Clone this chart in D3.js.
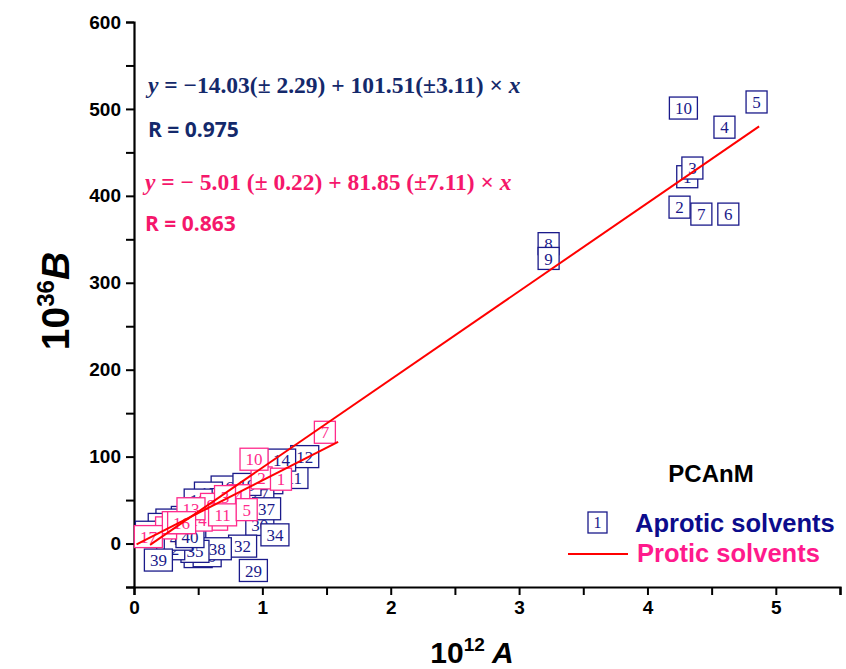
<!DOCTYPE html>
<html>
<head>
<meta charset="utf-8">
<script src="https://cdn.jsdelivr.net/npm/d3@7"></script>
<style>
  body { margin: 0; background: #fff; }
  svg { display: block; }
</style>
</head>
<body>
<div id="chart"></div>
<script>
// aprotic solvents (numbered boxes), listed in drawing order
var aproticLabels = [13, 15, 16, 17, 18, 20, 21, 22, 23, 24, 25, 26, 27, 28, 30, 31, 33, 36, 41,
                     19, 11, 12, 14, 37, 34, 32, 29, 38, 35, 42, 43, 39, 40,
                     8, 9, 1, 3, 2, 7, 6, 4, 10, 5];
var aproticA = [1.05, 0.59, 0.71, 0.58, 0.50, 0.45, 0.40, 0.50, 0.28, 0.22, 0.62, 0.76, 0.98, 0.20, 0.98, 0.50, 0.12, 0.57, 0.34,
                0.88, 1.246, 1.33, 1.15, 1.033, 1.098, 0.846, 0.93, 0.649, 0.475, 0.286, 0.345, 0.19, 0.436,
                3.23, 3.23, 4.31, 4.35, 4.25, 4.42, 4.63, 4.60, 4.28, 4.85];
var aproticB = [70, 51, 65, 58, 50, 18, 30, 40, 27, 22, 38, 47, 57, 10, 22, -15, 13, -14, 24,
                68, 76, 100, 96, 40, 10, -3, -31, -6, -9, -6, 5, -19, 8,
                345, 328, 422, 432, 387, 379, 379, 479, 501, 508];

// protic solvents, listed in drawing order
var proticLabels = [4, 6, 8, 9, 12, 14, 15, 13, 16, 3, 11, 5, 2, 1, 10, 7, 17];
var proticA = [0.82, 0.55, 0.25, 0.60, 0.62, 0.50, 0.33, 0.444, 0.371, 0.709, 0.69, 0.878, 0.994, 1.145, 0.935, 1.487, 0.112];
var proticB = [55, 33, 18, 45, 28, 27, 24, 40, 24, 54, 33, 39, 75.5, 74, 97, 128, 8];

// fitted lines, end points
var aproticFit = [[0.125, -1.5], [4.87, 480]];
var proticFit = [[0.02, -1], [1.59, 117]];

var xTicks = d3.range(0, 5.51, 0.5);
var yTicks = d3.range(-50, 601, 50);

var navy = "#1a1a8a";
var pink = "#ff2a8c";

var width = 846, height = 669;

var svg = d3.select("#chart").append("svg")
    .attr("width", width)
    .attr("height", height);

var x = d3.scaleLinear().domain([0, 5.5]).range([134, 840]);
var y = d3.scaleLinear().domain([-50, 600]).range([587, 22]);

// axes
var yAxis = svg.append("g")
    .attr("transform", "translate(" + x(0) + ",0)")
    .call(d3.axisLeft(y).tickValues(yTicks).tickSizeOuter(0).tickSize(8)
        .tickFormat(d => (d % 100 === 0 ? d : "")));
var xAxis = svg.append("g")
    .attr("transform", "translate(0," + y(-50) + ")")
    .call(d3.axisBottom(x).tickValues(xTicks).tickSizeOuter(0).tickSize(8)
        .tickFormat(d => (d % 1 === 0 ? d : "")));

[xAxis, yAxis].forEach(function (ax) {
    ax.select(".domain").attr("stroke", "#000").attr("stroke-width", 2.2);
    ax.selectAll(".tick line").attr("stroke", "#000").attr("stroke-width", 2);
    ax.selectAll(".tick text")
        .style("font-family", "'Liberation Sans', Arial, sans-serif")
        .style("font-weight", "bold")
        .style("font-size", "19px")
        .attr("fill", "#000");
});
yAxis.selectAll(".tick text").attr("x", -13);
xAxis.selectAll(".tick text").attr("y", 14);

// axis titles
var yTitle = svg.append("text")
    .attr("transform", "translate(69,301) rotate(-90)")
    .attr("text-anchor", "middle")
    .style("font-family", "'Liberation Sans', Arial, sans-serif")
    .style("font-weight", "bold")
    .style("font-size", "39px");
yTitle.append("tspan").text("10");
yTitle.append("tspan").attr("dy", -15).style("font-size", "24px").text("36");
yTitle.append("tspan").attr("dy", 15).style("font-style", "italic").text("B");

var xTitle = svg.append("text")
    .attr("x", 472).attr("y", 663)
    .attr("text-anchor", "middle")
    .style("font-family", "'Liberation Sans', Arial, sans-serif")
    .style("font-weight", "bold")
    .style("font-size", "30px");
xTitle.append("tspan").text("10");
xTitle.append("tspan").attr("dy", -12).style("font-size", "19px").text("12");
xTitle.append("tspan").attr("dy", 12).style("font-style", "italic").text(" A");

// numbered boxes
function drawBoxes(labels, xs, ys, color) {
    var pts = labels.map((l, i) => ({ label: l, a: xs[i], b: ys[i] }));
    var g = svg.append("g").selectAll("g")
        .data(pts)
        .enter()
        .append("g")
        .attr("transform", d => "translate(" + x(d.a) + "," + y(d.b) + ")");
    g.append("rect")
        .attr("x", d => -(String(d.label).length > 1 ? 14 : 10.5))
        .attr("y", -11)
        .attr("width", d => (String(d.label).length > 1 ? 28 : 21))
        .attr("height", 22)
        .attr("fill", "#fff")
        .attr("stroke", color)
        .attr("stroke-width", 1.3);
    g.append("text")
        .attr("text-anchor", "middle")
        .attr("dy", "0.36em")
        .style("font-family", "'Liberation Serif', 'Times New Roman', serif")
        .style("font-size", "17px")
        .attr("fill", color)
        .text(d => d.label);
}
drawBoxes(aproticLabels, aproticA, aproticB, navy);
drawBoxes(proticLabels, proticA, proticB, pink);

// fit lines
var line = d3.line().x(d => x(d[0])).y(d => y(d[1]));
[aproticFit, proticFit].forEach(function (f) {
    svg.append("path")
        .attr("d", line(f))
        .attr("fill", "none")
        .attr("stroke", "#ff0000")
        .attr("stroke-width", 2);
});

// equations
function equation(xp, yp, color, parts) {
    var t = svg.append("text")
        .attr("x", xp).attr("y", yp)
        .style("font-family", "'Liberation Serif', 'Times New Roman', serif")
        .style("font-weight", "bold")
        .style("font-size", "23.5px")
        .attr("fill", color);
    parts.forEach(function (p) {
        t.append("tspan").style("font-style", p[1] ? "italic" : "normal").text(p[0]);
    });
}
equation(148, 93, "#14296b", [["y", true], [" = −14.03(± 2.29) + 101.51(±3.11) × ", false], ["x", true]]);
equation(145, 190, "#f5176b", [["y", true], [" = − 5.01 (± 0.22) + 81.85 (±7.11) × ", false], ["x", true]]);

function rText(xp, yp, color, s) {
    svg.append("text")
        .attr("x", xp).attr("y", yp)
        .style("font-family", "'Open Sans', 'Noto Sans', sans-serif")
        .style("font-weight", "bold")
        .style("font-size", "21px")
        .attr("fill", color)
        .text(s);
}
rText(148, 137, "#14296b", "R = 0.975");
rText(145, 231, "#f5176b", "R = 0.863");

// PCAnM label and legend
svg.append("text")
    .attr("x", 711).attr("y", 482)
    .attr("text-anchor", "middle")
    .style("font-family", "'Liberation Sans', Arial, sans-serif")
    .style("font-weight", "bold")
    .style("font-size", "24px")
    .text("PCAnM");

var leg = svg.append("g");
leg.append("rect")
    .attr("x", 588).attr("y", 512).attr("width", 19).attr("height", 21)
    .attr("fill", "#fff").attr("stroke", navy).attr("stroke-width", 1.3);
leg.append("text")
    .attr("x", 597.5).attr("y", 522.5).attr("dy", "0.36em")
    .attr("text-anchor", "middle")
    .style("font-family", "'Liberation Serif', serif")
    .style("font-size", "16px")
    .attr("fill", navy)
    .text("1");
leg.append("text")
    .attr("x", 635).attr("y", 532)
    .style("font-family", "'Liberation Sans', Arial, sans-serif")
    .style("font-weight", "bold")
    .style("font-size", "25.5px")
    .attr("fill", "#0c0c8c")
    .text("Aprotic solvents");
leg.append("line")
    .attr("x1", 568).attr("x2", 628).attr("y1", 554).attr("y2", 554)
    .attr("stroke", "#ff0000").attr("stroke-width", 2);
leg.append("text")
    .attr("x", 637).attr("y", 562)
    .style("font-family", "'Liberation Sans', Arial, sans-serif")
    .style("font-weight", "bold")
    .style("font-size", "25.5px")
    .attr("fill", "#ff1a8c")
    .text("Protic solvents");
</script>
</body>
</html>
